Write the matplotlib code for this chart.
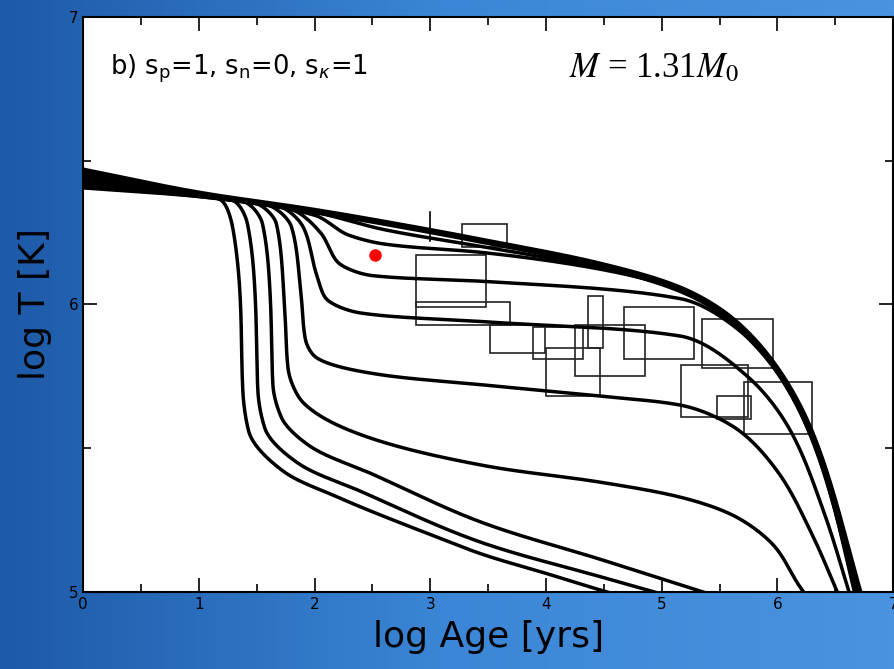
import numpy as np
import matplotlib
matplotlib.use("Agg")
import matplotlib.pyplot as plt
from matplotlib.colors import LinearSegmentedColormap

# cooling curves (log age, log T)
curves = [
    [(0,6.45),(0.5,6.42),(1.0,6.385),(1.2,6.36),(1.3,6.25),(1.36,6.0),(1.38,5.7),(1.43,5.56),(1.73,5.42),(2.2,5.33),(3.0,5.2),(3.46,5.13),(4.0,5.065),(4.53,5.0),(4.8,4.97)],
    [(0,6.44),(0.5,6.415),(1.0,6.38),(1.3,6.36),(1.42,6.28),(1.49,6.0),(1.51,5.7),(1.57,5.57),(1.85,5.45),(2.4,5.35),(3.46,5.17),(4.5,5.05),(4.94,5.0),(5.2,4.97)],
    [(0,6.435),(0.5,6.41),(1.0,6.38),(1.4,6.355),(1.55,6.28),(1.62,6.0),(1.64,5.72),(1.71,5.61),(1.95,5.51),(2.5,5.41),(3.46,5.24),(4.5,5.11),(5.36,5.0),(5.6,4.97)],
    [(0,6.43),(1.0,6.38),(1.5,6.35),(1.67,6.28),(1.74,6.0),(1.77,5.78),(1.86,5.68),(2.2,5.58),(3.46,5.44),(4.5,5.38),(5.16,5.33),(5.6,5.27),(5.95,5.17),(6.27,4.98),(6.33,4.96)],
    [(0,6.425),(1.0,6.38),(1.6,6.345),(1.8,6.27),(1.88,6.05),(1.92,5.88),(2.0,5.82),(2.5,5.76),(3.46,5.72),(4.5,5.68),(5.16,5.65),(5.6,5.58),(6.0,5.42),(6.3,5.2),(6.56,4.96)],
    [(0,6.42),(1.0,6.38),(1.7,6.34),(1.9,6.27),(2.02,6.10),(2.1,6.02),(2.4,5.97),(3.46,5.94),(5.16,5.89),(5.74,5.75),(6.1,5.57),(6.4,5.28),(6.65,4.96)],
    [(0,6.415),(1.0,6.38),(1.8,6.33),(2.05,6.25),(2.22,6.14),(2.5,6.10),(3.46,6.08),(5.16,6.02),(5.7,5.90),(6.1,5.70),(6.4,5.42),(6.69,4.96)],
    [(0,6.41),(1.0,6.375),(2.0,6.31),(2.3,6.24),(2.6,6.21),(3.46,6.18),(4.5,6.12),(5.16,6.05),(5.59,5.94),(6.02,5.75),(6.31,5.52),(6.71,4.96)],
    [(0,6.405),(1.0,6.375),(2.0,6.32),(2.6,6.26),(3.46,6.20),(4.5,6.125),(5.16,6.045),(5.59,5.945),(6.02,5.755),(6.31,5.53),(6.72,4.96)],
    [(0,6.46),(1.0,6.38),(2.0,6.32),(3.0,6.25),(3.46,6.215),(4.5,6.13),(5.16,6.05),(5.59,5.95),(6.02,5.76),(6.31,5.54),(6.73,4.96)],
    [(0,6.465),(1.0,6.385),(2.0,6.325),(3.0,6.255),(3.46,6.22),(4.5,6.135),(5.16,6.055),(5.59,5.955),(6.02,5.765),(6.31,5.545),(6.74,4.96)],
    [(0,6.47),(1.0,6.39),(2.0,6.33),(3.0,6.26),(3.46,6.225),(4.5,6.14),(5.16,6.06),(5.59,5.96),(6.02,5.77),(6.31,5.55),(6.75,4.96)],
]

# observational boxes: x0, x1, y0, y1
box_x0 = [3.27, 2.88, 2.88, 3.52, 3.89, 4.36, 4.25, 4.00, 4.67, 5.35, 5.17, 5.48, 5.71]
box_x1 = [3.66, 3.48, 3.69, 3.99, 4.32, 4.49, 4.86, 4.47, 5.28, 5.96, 5.75, 5.77, 6.30]
box_y0 = [6.20, 5.99, 5.93, 5.83, 5.81, 5.85, 5.75, 5.68, 5.81, 5.78, 5.61, 5.60, 5.55]
box_y1 = [6.28, 6.17, 6.01, 5.93, 5.92, 6.03, 5.93, 5.85, 5.99, 5.95, 5.79, 5.68, 5.73]
err_x, err_y0, err_y1 = 3.0, 6.22, 6.32
red_x, red_y = 2.52, 6.17


def pchip(t, y, tn):
    t = np.asarray(t, float); y = np.asarray(y, float)
    h = np.diff(t); d = np.diff(y) / h
    m = np.zeros_like(y)
    for k in range(1, len(y) - 1):
        if d[k-1] * d[k] > 0:
            w1 = 2*h[k] + h[k-1]; w2 = h[k] + 2*h[k-1]
            m[k] = (w1 + w2) / (w1/d[k-1] + w2/d[k])
    m[0] = d[0]; m[-1] = d[-1]
    idx = np.clip(np.searchsorted(t, tn) - 1, 0, len(h) - 1)
    s = (tn - t[idx]) / h[idx]
    h00 = 2*s**3 - 3*s**2 + 1; h10 = s**3 - 2*s**2 + s
    h01 = -2*s**3 + 3*s**2; h11 = s**3 - s**2
    return h00*y[idx] + h10*h[idx]*m[idx] + h01*y[idx+1] + h11*h[idx]*m[idx+1]


fig = plt.figure(figsize=(8.94, 6.69), dpi=100)
bg = fig.add_axes([0, 0, 1, 1])
grad = np.linspace(0, 1, 256)[None, :]
cm = LinearSegmentedColormap.from_list("bg", ["#1d5aa8", "#3b86d6", "#4a93e0"])
bg.imshow(grad, aspect="auto", cmap=cm, extent=[0, 1, 0, 1])
bg.axis("off")

ax = fig.add_axes([0.093, 0.115, 0.906, 0.860])
ax.set_facecolor("white")
for c in curves:
    xs = np.array([p[0] for p in c]); ys = np.array([p[1] for p in c])
    sx = xs / 7.0; sy = ys / 2.0
    t = np.concatenate([[0], np.cumsum(np.hypot(np.diff(sx), np.diff(sy)))])
    tn = np.linspace(0, t[-1], 600)
    ax.plot(pchip(t, xs, tn), pchip(t, ys, tn), color="black", lw=2.5, solid_capstyle="round")

for x0, x1, y0, y1 in zip(box_x0, box_x1, box_y0, box_y1):
    ax.add_patch(plt.Rectangle((x0, y0), x1 - x0, y1 - y0, fill=False, ec="#222222", lw=1.2))
ax.plot([err_x, err_x], [err_y0, err_y1], color="black", lw=1.2)
ax.plot([red_x], [red_y], "o", color="red", ms=8, mec="red")

ax.set_xlim(0, 7); ax.set_ylim(5, 7)
ax.set_xticks(range(0, 8)); ax.set_xticks(np.arange(0, 7.01, 0.5), minor=True)
ax.set_yticks([5, 6, 7]); ax.set_yticks([5.5, 6.5], minor=True)
ax.tick_params(which="both", direction="in", top=True, right=True, labelsize=11)
ax.tick_params(which="major", length=10, width=1.2)
ax.tick_params(which="minor", length=6, width=1.2)
for s in ax.spines.values():
    s.set_linewidth(1.5)
ax.set_xlabel("log Age [yrs]", fontsize=26, labelpad=6)
ax.set_ylabel("log T [K]", fontsize=26, labelpad=12)
ax.text(0.033, 0.91, r"b) s$_\mathregular{p}$=1, s$_\mathregular{n}$=0, s$_\kappa$=1",
        transform=ax.transAxes, fontsize=18.5, va="center")
ax.text(0.6, 0.91, r"$M$ = 1.31$M_0$", transform=ax.transAxes, fontsize=25,
        family="Liberation Serif", va="center", math_fontfamily="stix")
fig.savefig("out.png", dpi=100)
